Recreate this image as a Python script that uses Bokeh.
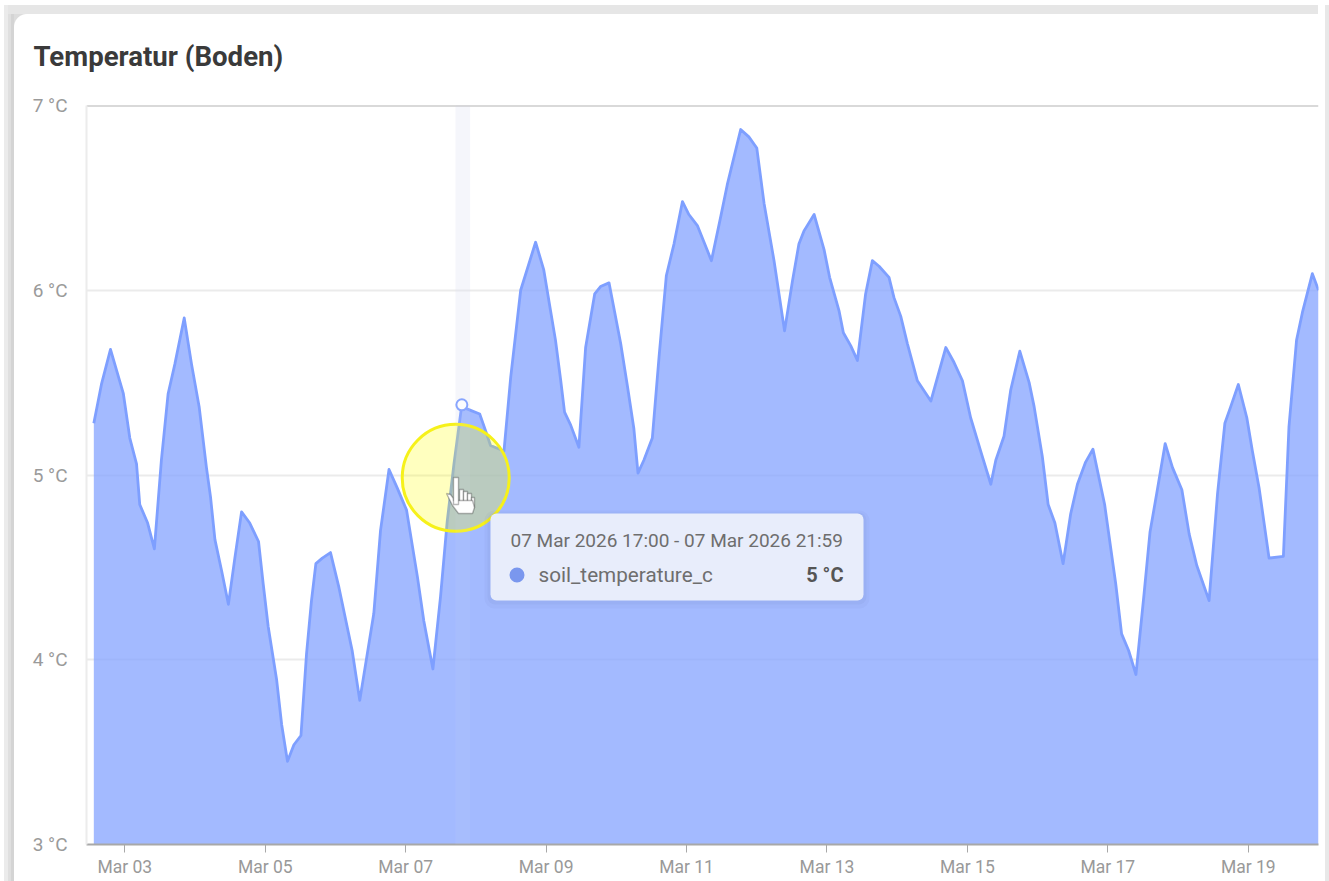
from datetime import datetime, timedelta
from bokeh.embed import file_html
from bokeh.resources import INLINE
from bokeh.plotting import figure
from bokeh.models import (Range1d, FixedTicker, PrintfTickFormatter, DatetimeTickFormatter,
                          BoxAnnotation, Label, Span, PolyAnnotation, Title)

TITLE = "Temperatur (Boden)"
SERIES = "soil_temperature_c"
BASE = datetime(2026, 3, 3)
EPOCH = datetime(1970, 1, 1)
hours = [-10.6,-8.0,-4.9,-0.5,1.7,4.0,5.1,7.8,10.1,12.5,14.8,17.1,20.3,22.8,25.4,27.9,29.3,30.8,33.1,35.4,
         37.6,39.9,42.7,45.7,47.3,49.0,51.9,53.6,55.6,57.8,60.2,62.1,63.8,65.3,67.5,70.3,73.2,77.7,80.3,85.1,
         87.4,90.3,93.1,96.3,100.0,102.2,105.3,107.9,110.2,112.5,115.1,118.2,121.3,123.3,125.0,129.6,131.9,135.3,140.4,143.2,
         145.5,147.2,149.0,150.3,152.4,155.2,157.5,160.6,162.6,165.5,169.5,171.8,174.0,175.4,177.4,180.3,182.6,185.1,187.7,190.6,
         192.8,195.7,200.5,203.7,205.9,210.5,213.3,216.0,218.5,221.9,225.5,228.2,230.4,232.1,235.6,239.0,240.9,244.1,245.6,248.1,
         250.4,253.2,255.5,257.8,261.2,262.9,265.2,267.5,270.9,275.5,280.6,283.4,286.3,289.1,292.9,296.0,297.7,300.5,302.8,305.9,
         309.1,310.8,313.6,315.6,317.9,320.7,323.3,325.6,328.4,330.9,334.9,338.7,340.7,343.1,345.6,348.4,350.4,352.7,355.6,358.1,
         361.3,363.8,366.4,370.6,373.5,376.0,378.0,380.6,383.5,385.4,387.7,391.1,396.0,397.9,400.5,402.5,405.9,408.0]
temps = [5.28,5.49,5.68,5.44,5.20,5.06,4.84,4.74,4.60,5.08,5.44,5.60,5.85,5.60,5.37,5.04,4.88,4.65,4.48,4.30,
         4.55,4.80,4.74,4.64,4.41,4.18,3.89,3.65,3.45,3.54,3.59,4.03,4.32,4.52,4.55,4.58,4.39,4.05,3.78,4.25,
         4.70,5.03,4.93,4.81,4.45,4.21,3.95,4.34,4.75,5.06,5.37,5.35,5.33,5.24,5.16,5.13,5.53,6.00,6.26,6.11,
         5.89,5.73,5.51,5.34,5.27,5.15,5.69,5.98,6.02,6.04,5.71,5.48,5.25,5.01,5.08,5.20,5.64,6.08,6.25,6.48,
         6.41,6.35,6.16,6.40,6.57,6.87,6.83,6.77,6.47,6.16,5.78,6.05,6.25,6.32,6.41,6.22,6.07,5.89,5.77,5.70,
         5.62,5.98,6.16,6.13,6.07,5.96,5.86,5.71,5.51,5.40,5.69,5.61,5.51,5.31,5.11,4.95,5.08,5.21,5.46,5.67,
         5.50,5.37,5.10,4.84,4.74,4.52,4.79,4.95,5.07,5.14,4.84,4.41,4.14,4.05,3.92,4.36,4.69,4.90,5.17,5.04,
         4.92,4.68,4.51,4.32,4.90,5.28,5.37,5.49,5.31,5.13,4.93,4.55,4.56,5.26,5.73,5.88,6.09,6.00]
y_ticks = [3, 4, 5, 6, 7]
x_tick_days = [3, 5, 7, 9, 11, 13, 15, 17, 19]
hover_start = datetime(2026, 3, 7, 17, 0)
hover_end = datetime(2026, 3, 7, 22, 0)
hover_x = datetime(2026, 3, 7, 19, 12)
hover_y = 5.38
pointer_x = datetime(2026, 3, 7, 17, 6)
pointer_y = 4.985
tooltip_head = "07 Mar 2026 17:00 - 07 Mar 2026 21:59"
tooltip_value = "5 °C"

def band(color, left, top, w, h):
    return f"linear-gradient({color},{color}) {left}px {top}px / {w}px {h}px no-repeat"

chrome = ", ".join([
    "radial-gradient(circle at 13px 13px, transparent 12.5px, #dcdcdc 13.5px) 14px 14px / 13px 13px no-repeat",
    band("#e6e6e6", 8, 5, 1310, 9),
    band("#ebebeb", 4, 5, 4, 876),
    band("#dfdfdf", 8, 5, 3, 876),
    band("#d4d4d4", 11, 5, 3, 876),
    band("#e8e8e8", 1325, 5, 4, 876),
    "white",
])

x = [BASE + timedelta(hours=h) for h in hours]
W, H = 1329, 881
p = figure(width=W, height=H, output_backend="svg", toolbar_location=None, x_axis_type="datetime",
           x_range=Range1d(BASE - timedelta(hours=13.1), BASE + timedelta(hours=408)),
           y_range=Range1d(3, 7),
           min_border_left=86, min_border_right=11, min_border_top=105, min_border_bottom=37,
           outline_line_color=None, border_fill_color=None, background_fill_color=None,
           styles={"background": chrome})

def box(l, t, r, b, color, alpha=1.0, radius=0, level="overlay"):
    p.add_layout(BoxAnnotation(left=l, right=r, top=t, bottom=b,
                               left_units="canvas", right_units="canvas", top_units="canvas", bottom_units="canvas",
                               fill_color=color, fill_alpha=alpha, line_color=None, border_radius=radius, level=level))

def poly(xs, ys, color, line=None, width=1.0):
    p.add_layout(PolyAnnotation(xs=xs, ys=ys, xs_units="canvas", ys_units="canvas", fill_color=color, fill_alpha=1,
                                line_color=line, line_width=width, level="overlay"))

p.varea(x=x, y1=[3]*len(x), y2=temps, fill_color="#84a3ff", fill_alpha=0.75)
p.line(x=x, y=temps, line_color="#7e9fff", line_width=2.8, line_join="round")

p.add_layout(BoxAnnotation(left=hover_start, right=hover_end, fill_color="#dfe3f3", fill_alpha=0.22,
                           line_color=None, level="underlay"))
p.add_layout(BoxAnnotation(left=hover_start, right=hover_end, fill_color="#dfe3f3", fill_alpha=0.10,
                           line_color=None, level="overlay"))

p.scatter(x=[hover_x], y=[hover_y], size=11, fill_color="white", line_color="#7e9fff", line_width=2)
p.scatter(x=[pointer_x], y=[pointer_y], size=107, fill_color="#ffff00", fill_alpha=0.25,
          line_color="#f6f11a", line_width=3)

p.ygrid.ticker = FixedTicker(ticks=y_ticks)
p.ygrid.grid_line_color = "#ebebeb"
p.ygrid.grid_line_width = 2
p.xgrid.visible = False
p.add_layout(Span(location=7, dimension="width", line_color="#b4b4b4", line_width=2, level="underlay"))

p.yaxis.ticker = FixedTicker(ticks=y_ticks)
p.yaxis.formatter = PrintfTickFormatter(format="%d °C")
p.yaxis.axis_line_color = "#ececec"
p.yaxis.axis_line_width = 2
p.yaxis.major_tick_line_color = None
p.yaxis.minor_tick_line_color = None
p.yaxis.major_label_text_color = "#9a9a9a"
p.yaxis.major_label_text_font = "Roboto"
p.yaxis.major_label_text_font_size = "19px"
p.yaxis.major_label_standoff = 13

p.xaxis.ticker = FixedTicker(ticks=[(datetime(2026, 3, d) - EPOCH).total_seconds()*1000 for d in x_tick_days])
p.xaxis.formatter = DatetimeTickFormatter(days="%b %d", hours="%b %d", months="%b %d")
p.xaxis.axis_line_color = "#a8a8a8"
p.xaxis.axis_line_width = 2
p.xaxis.major_tick_line_color = "#a8a8a8"
p.xaxis.major_tick_in = 0
p.xaxis.major_tick_out = 8
p.xaxis.minor_tick_line_color = None
p.xaxis.major_label_text_color = "#999999"
p.xaxis.major_label_text_font = "Roboto"
p.xaxis.major_label_text_font_size = "17.5px"
p.xaxis.major_label_standoff = 4

p.title = Title(text=TITLE, text_font="Roboto", text_font_size="27.6px", text_font_style="bold",
                text_color="#3a3a3a", offset=-53, standoff=66)

# tooltip
box(484, 510, 869, 608, "#5a6a9a", alpha=0.05, radius=10)
box(487, 512, 866, 604, "#5a6a9a", alpha=0.06, radius=8)
box(490, 513, 863, 600, "#e8edfb", radius=6)
box(509, 567, 524, 582, "#7a97ee", radius=8)

def label(px, py, text, color, size, style="normal", align="left"):
    p.add_layout(Label(x=px, y=py, x_units="canvas", y_units="canvas", text=text, text_color=color,
                       text_font="Roboto", text_font_size=size, text_font_style=style,
                       text_align=align, text_baseline="middle", level="overlay"))

label(510, 540, tooltip_head, "#6e6e6e", "19px")
label(538, 574, SERIES, "#6e6e6e", "20.7px")
label(843, 574, tooltip_value, "#555555", "20px", style="bold", align="right")

hand_parts = [
    ([459,463,463,459], [489,489,504,504]),
    ([463,467,467,463], [491,491,505,505]),
    ([467,471,471,467], [493,493,505,505]),
    ([471,474,474,471], [497,497,507,507]),
    ([446,450,453,453,458,472,474,472,458,452], [493,494,498,500,500,500,507,513,513,505]),
    ([453,458,458,453], [477,477,504,504]),
]
for hx, hy in hand_parts:
    poly(hx, hy, "white", line="#111111", width=1.4)

open("out.html", "w").write(file_html(p, INLINE))
